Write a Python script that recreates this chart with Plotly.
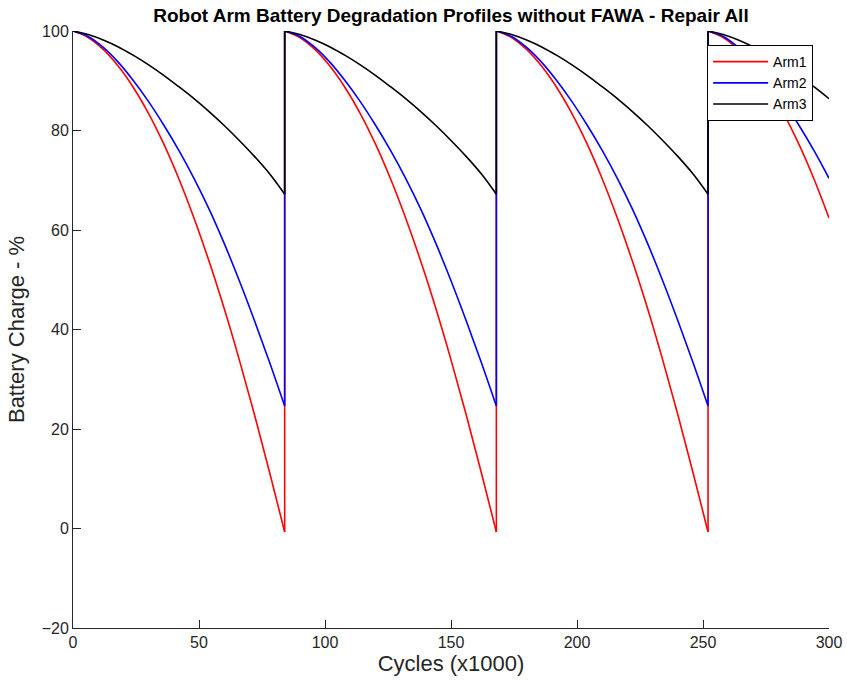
import plotly.graph_objects as go

# ---- data ----
cycle_start = [0, 84, 168, 252]          # repair (recharge) points, cycles x1000
cycle_t = [0, 6, 12, 18, 24, 30, 36, 42, 48, 54, 60, 66, 72, 78, 84]
x_max = 300

arm1 = [100, 98.7, 96.3, 92.9, 88.6, 83.4, 77.3, 70.3, 62.4, 53.7, 44.2, 33.9, 22.9, 11.3, -0.7]
arm2 = [100, 98.9, 96.7, 93.7, 90.0, 85.8, 81.1, 76.0, 70.4, 64.2, 57.3, 49.8, 41.8, 33.4, 24.6]
arm3 = [100, 99.3, 98.2, 96.8, 95.1, 93.2, 91.1, 88.8, 86.4, 83.8, 81.0, 78.0, 74.8, 71.3, 67.2]

names = ["Arm1", "Arm2", "Arm3"]
profiles = [arm1, arm2, arm3]
colors = ["#ff0000", "#0000ff", "#000000"]

x_ticks = [0, 50, 100, 150, 200, 250, 300]
y_ticks = [-20, 0, 20, 40, 60, 80, 100]

AX = "#262626"
FONT = "Liberation Sans, Arial, Helvetica, sans-serif"

fig = go.Figure()
for name, prof, col in zip(names, profiles, colors):
    xs, ys = [], []
    for s in cycle_start:
        for t, v in zip(cycle_t, prof):
            if s + t <= x_max:
                xs.append(s + t)
                ys.append(v)
        xs.append(None)
        ys.append(None)
    fig.add_trace(go.Scatter(
        x=xs, y=ys, mode="lines", name=name, legendgroup=name,
        line=dict(color=col, width=1.6, shape="spline", smoothing=1.0),
        connectgaps=False, hoverinfo="skip"))
    jx, jy = [], []
    for s in cycle_start[1:]:
        jx += [s, s, None]
        jy += [prof[-1], prof[0], None]
    fig.add_trace(go.Scatter(
        x=jx, y=jy, mode="lines", name=name, legendgroup=name, showlegend=False,
        line=dict(color=col, width=1.6), hoverinfo="skip"))

fig.update_layout(
    width=847, height=680,
    margin=dict(l=73, r=18, t=31, b=52, autoexpand=False),
    plot_bgcolor="white", paper_bgcolor="white",
    font=dict(family=FONT, color=AX, size=16),
    title=dict(text="<b>Robot Arm Battery Degradation Profiles without FAWA - Repair All</b>",
               x=0.5, xref="paper", xanchor="center",
               y=1 - 15 / 680, yref="container", yanchor="middle",
               font=dict(family=FONT, size=19, color="#000000")),
    legend=dict(x=0.979, y=0.9765, xanchor="right", yanchor="top",
                bgcolor="white", bordercolor="#000000", borderwidth=1,
                font=dict(family=FONT, size=14, color="#000000"),
                itemwidth=55,
                traceorder="normal", tracegroupgap=0),
    showlegend=True,
)
fig.update_xaxes(
    range=[0, 300], tickvals=x_ticks, showgrid=False, zeroline=False,
    showline=True, linecolor=AX, linewidth=1, mirror=False, automargin=False,
    ticks="inside", ticklen=8, tickcolor=AX, tickwidth=1,
    tickfont=dict(size=16, color=AX),
    title=dict(text="Cycles (x1000)", font=dict(size=22, color=AX), standoff=4))
fig.update_yaxes(
    range=[-20, 100], tickvals=y_ticks, showgrid=False, zeroline=False,
    showline=True, linecolor=AX, linewidth=1, mirror=False, automargin=False,
    ticks="inside", ticklen=8, tickcolor=AX, tickwidth=1,
    tickfont=dict(size=16, color=AX),
    title=dict(text="Battery Charge - %", font=dict(size=22, color=AX), standoff=10))

fig.write_html("out.html")
